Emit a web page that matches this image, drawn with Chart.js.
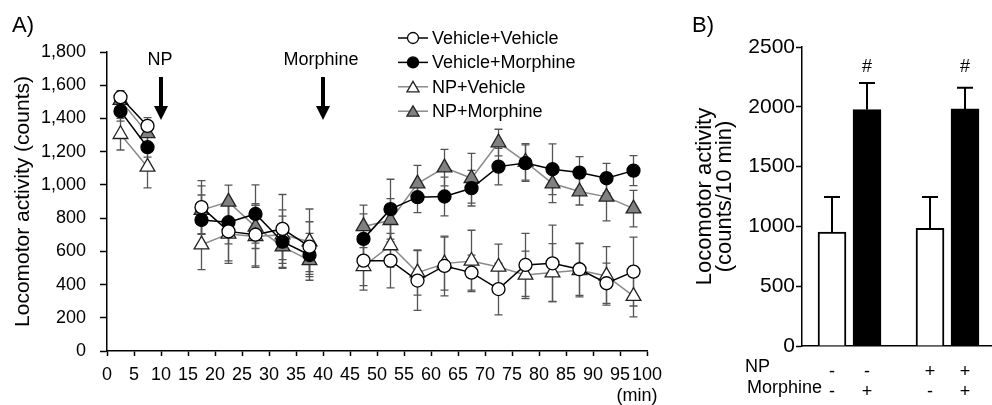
<!DOCTYPE html>
<html><head><meta charset="utf-8">
<script src="https://cdn.jsdelivr.net/npm/chart.js@4.4.1/dist/chart.umd.min.js"></script>
<style>
html,body{margin:0;padding:0;background:#fff;width:992px;height:405px;overflow:hidden;}
#wa{position:absolute;left:0;top:0;width:680px;height:405px;}
#wb{position:absolute;left:680px;top:0;width:312px;height:405px;}
</style></head><body>
<div id="wa"><canvas id="ca"></canvas></div>
<div id="wb"><canvas id="cb"></canvas></div>
<script>
// ---------- DATA (panel A) ----------
const timeMin = [2.5, 7.5, 12.5, 17.5, 22.5, 27.5, 32.5, 37.5, 42.5, 47.5, 52.5, 57.5, 62.5, 67.5, 72.5, 77.5, 82.5, 87.5, 92.5, 97.5];
const xTicksA = [0, 5, 10, 15, 20, 25, 30, 35, 40, 45, 50, 55, 60, 65, 70, 75, 80, 85, 90, 95, 100];
const yTicksA = [0, 200, 400, 600, 800, 1000, 1200, 1400, 1600, 1800];
const vehVeh  = [1528, 1355, null, 866, 720, 700, 735, 628, null, 544, 544, 424, 512, 472, 373, 518, 528, 492, 408, 478];
const vehMor  = [1444, 1227, null, 789, 775, 825, 658, 578, null, 675, 854, 926, 930, 980, 1110, 1131, 1094, 1074, 1040, 1086];
const npVeh   = [1305, 1108, null, 640, 705, 690, 700, 658, null, 510, 635, 472, 526, 542, 506, 458, 472, 486, 452, 330];
const npMor   = [1510, 1310, null, 848, 898, 747, 628, 546, null, 750, 787, 1008, 1104, 1040, 1255, 1139, 1008, 960, 928, 857];
const vehVehErr = [40, 50, null, 160, 177, 187, 207, 150, null, 150, 164, 180, 180, 105, 156, 190, 230, 157, 121, 207];
const vehMorErr = [60, 60, null, 150, 130, 175, 154, 130, null, 150, 180, 93, 117, 107, 110, 110, 153, 96, 90, 90];
const npVehErr  = [95, 126, null, 150, 177, 187, 150, 197, null, 143, 130, 136, 160, 185, 137, 143, 175, 160, 176, 124];
const npMorErr  = [50, 60, null, 146, 100, 130, 130, 120, null, 128, 130, 110, 110, 150, 80, 110, 115, 81, 145, 110];
const seriesNames = ['Vehicle+Vehicle', 'Vehicle+Morphine', 'NP+Vehicle', 'NP+Morphine'];
const arrowTimes = [10, 40];
const arrowLabels = ['NP', 'Morphine'];

// ---------- DATA (panel B) ----------
const groupNP  = ['-', '-', '+', '+'];
const groupMor = ['-', '+', '-', '+'];
const barMeans = [953, 1977, 984, 1982];
const barErrs  = [293, 222, 262, 178];
const barSig   = ['', '#', '', '#'];
const yTicksB  = [0, 500, 1000, 1500, 2000, 2500];

// ---------- STYLE / LAYOUT ----------
const FONT = "'Liberation Sans', Arial, Helvetica, sans-serif";
Chart.defaults.font.family = FONT;
Chart.defaults.color = '#000';
Chart.defaults.animation = false;
const styles = [
  {pointStyle:'circle',   radius:6.5, bg:'#ffffff', pb:'#000000', line:'#000000'},
  {pointStyle:'circle',   radius:6.5, bg:'#000000', pb:'#000000', line:'#000000'},
  {pointStyle:'triangle', radius:8.5, bg:'#ffffff', pb:'#222222', line:'#8a8a8a'},
  {pointStyle:'triangle', radius:8.5, bg:'#808080', pb:'#222222', line:'#8a8a8a'}
];
const valuesA = [vehVeh, vehMor, npVeh, npMor];
const errsA = [vehVehErr, vehMorErr, npVehErr, npMorErr];
const BAR_X = [0, 1, 2.8, 3.8]; // horizontal placement of the bars (layout)

function axisCommon(tickLen){
  return {
    grid:{display:true, drawOnChartArea:false, drawTicks:true, tickLength:tickLen, tickColor:'#000', tickWidth:1.5, color:'#000'},
    border:{display:true, color:'#000', width:1.5}
  };
}

// ---------- PANEL A ----------
const plugA = {
  id:'plugA',
  beforeDatasetsDraw(chart){
    const {ctx, scales:{x, y}} = chart;
    ctx.save();
    ctx.strokeStyle = '#555'; ctx.lineWidth = 1.3;
    valuesA.forEach((vals, i) => {
      timeMin.forEach((t, j) => {
        const v = vals[j], e = errsA[i][j];
        if (v == null || e == null) return;
        const px = x.getPixelForValue(t), pt = y.getPixelForValue(v + e), pb = y.getPixelForValue(v - e);
        ctx.beginPath();
        ctx.moveTo(px, pt); ctx.lineTo(px, pb);
        ctx.moveTo(px - 4, pt); ctx.lineTo(px + 4, pt);
        ctx.moveTo(px - 4, pb); ctx.lineTo(px + 4, pb);
        ctx.stroke();
      });
    });
    ctx.restore();
  },
  afterDraw(chart){
    const {ctx, scales:{x}} = chart;
    ctx.save();
    ctx.fillStyle = '#000';
    ctx.font = '18px ' + FONT; ctx.textAlign = 'center'; ctx.textBaseline = 'middle';
    arrowTimes.forEach((t, i) => {
      const px = x.getPixelForValue(t);
      ctx.fillText(arrowLabels[i], i === 0 ? px - 1 : px - 2, 60);
      ctx.fillRect(px - 2, 77, 4, 30);
      ctx.beginPath(); ctx.moveTo(px - 7, 106); ctx.lineTo(px + 7, 106); ctx.lineTo(px, 120); ctx.closePath(); ctx.fill();
    });
    ctx.fillText('(min)', 637, 396);
    ctx.font = '22px ' + FONT; ctx.textAlign = 'left';
    ctx.fillText('A)', 12, 26);
    ctx.font = '18px ' + FONT;
    seriesNames.forEach((name, i) => {
      const yy = 38 + i * 24.4;
      const st = styles[i];
      ctx.strokeStyle = st.line; ctx.lineWidth = 1.5;
      ctx.beginPath(); ctx.moveTo(398, yy); ctx.lineTo(428, yy); ctx.stroke();
      ctx.fillStyle = st.bg; ctx.strokeStyle = st.pb; ctx.lineWidth = 1.3;
      Chart.helpers.drawPoint(ctx, {pointStyle: st.pointStyle, radius: st.pointStyle === 'circle' ? 5.5 : 7, rotation:0, borderWidth:1.3}, 413, yy + (st.pointStyle === 'circle' ? 0 : 1.5));
      ctx.fillStyle = '#000';
      ctx.fillText(name, 432, yy + 1);
    });
    ctx.restore();
  }
};

new Chart(document.getElementById('ca'), {
  type:'line',
  data:{
    datasets: valuesA.map((vals, i) => ({
      label: seriesNames[i],
      data: timeMin.map((t, j) => ({x:t, y:vals[j]})),
      borderColor: styles[i].line, borderWidth:1.5,
      pointStyle: styles[i].pointStyle, pointRadius: styles[i].radius,
      pointBackgroundColor: styles[i].bg, pointBorderColor: styles[i].pb, pointBorderWidth:1.3,
      spanGaps:false, tension:0, fill:false
    }))
  },
  options:{
    responsive:true, maintainAspectRatio:false,
    layout:{padding:{left:0, right:33, top:52, bottom:0}},
    plugins:{legend:{display:false}, tooltip:{enabled:false}},
    scales:{
      x:Object.assign(axisCommon(5), {
        type:'linear', min:0, max:100,
        afterBuildTicks: s => { s.ticks = xTicksA.map(v => ({value:v})); },
        ticks:{autoSkip:false, maxRotation:0, padding:8, font:{size:18}, color:'#000'},
        afterFit: s => { s.height = 54; }
      }),
      y:Object.assign(axisCommon(7), {
        min:0, max:1800,
        afterBuildTicks: s => { s.ticks = yTicksA.map(v => ({value:v})); },
        ticks:{padding:14, font:{size:18}, color:'#000', callback: v => v.toLocaleString('en-US')},
        title:{display:true, text:'Locomotor activity (counts)', font:{size:21}, color:'#000', padding:{top:11, bottom:0}},
        afterFit: s => { s.width = 107; }
      })
    }
  },
  plugins:[plugA]
});

// ---------- PANEL B ----------
const plugB = {
  id:'plugB',
  afterDatasetsDraw(chart){
    const {ctx, scales:{x, y}} = chart;
    ctx.save();
    ctx.strokeStyle = '#000'; ctx.lineWidth = 2;
    barMeans.forEach((m, i) => {
      const px = x.getPixelForValue(BAR_X[i]), p0 = y.getPixelForValue(m), p1 = y.getPixelForValue(m + barErrs[i]);
      ctx.beginPath(); ctx.moveTo(px, p0); ctx.lineTo(px, p1);
      ctx.moveTo(px - 8, p1); ctx.lineTo(px + 8, p1); ctx.stroke();
      if (barSig[i]) {
        ctx.fillStyle = '#000'; ctx.font = '18px ' + FONT; ctx.textAlign = 'center'; ctx.textBaseline = 'middle';
        ctx.fillText(barSig[i], px, y.getPixelForValue(2330));
      }
    });
    ctx.restore();
  },
  afterDraw(chart){
    const {ctx} = chart;
    ctx.save();
    ctx.fillStyle = '#000'; ctx.textAlign = 'left'; ctx.textBaseline = 'middle';
    ctx.font = '22px ' + FONT;
    ctx.fillText('B)', 12, 26);
    ctx.font = '18px ' + FONT;
    ctx.fillText('NP', 65, 367);
    ctx.fillText('Morphine', 67, 388);
    ctx.restore();
  }
};

new Chart(document.getElementById('cb'), {
  type:'bar',
  data:{
    datasets:[{
      data: barMeans.map((m, i) => ({x:BAR_X[i], y:m})),
      backgroundColor: barMeans.map((m, i) => groupMor[i] === '+' ? '#000' : '#fff'),
      borderColor:'#000', borderWidth:2, barThickness:28
    }]
  },
  options:{
    responsive:true, maintainAspectRatio:false,
    layout:{padding:{left:0, right:0, top:47, bottom:0}},
    plugins:{legend:{display:false}, tooltip:{enabled:false}},
    scales:{
      x:{
        type:'linear', min:-0.857, max:4.571, offset:false,
        grid:{display:false}, border:{display:true, color:'#000', width:1.5},
        afterBuildTicks: s => { s.ticks = BAR_X.map(v => ({value:v})); },
        ticks:{autoSkip:false, maxRotation:0, padding:8, font:{size:18, lineHeight:'20px'}, color:'#000',
          callback: (v, i) => [groupNP[i], groupMor[i]]},
        afterFit: s => { s.height = 59; }
      },
      y:Object.assign(axisCommon(6), {
        min:0, max:2500,
        afterBuildTicks: s => { s.ticks = yTicksB.map(v => ({value:v})); },
        ticks:{padding:1, font:{size:21}, color:'#000', callback: v => String(v)},
        title:{display:true, text:['Locomotor activity', '(counts/10 min)'], font:{size:22, lineHeight:'20px'}, color:'#000', padding:{top:15, bottom:0}},
        afterFit: s => { s.width = 122; }
      })
    }
  },
  plugins:[plugB]
});
</script>
</body></html>
